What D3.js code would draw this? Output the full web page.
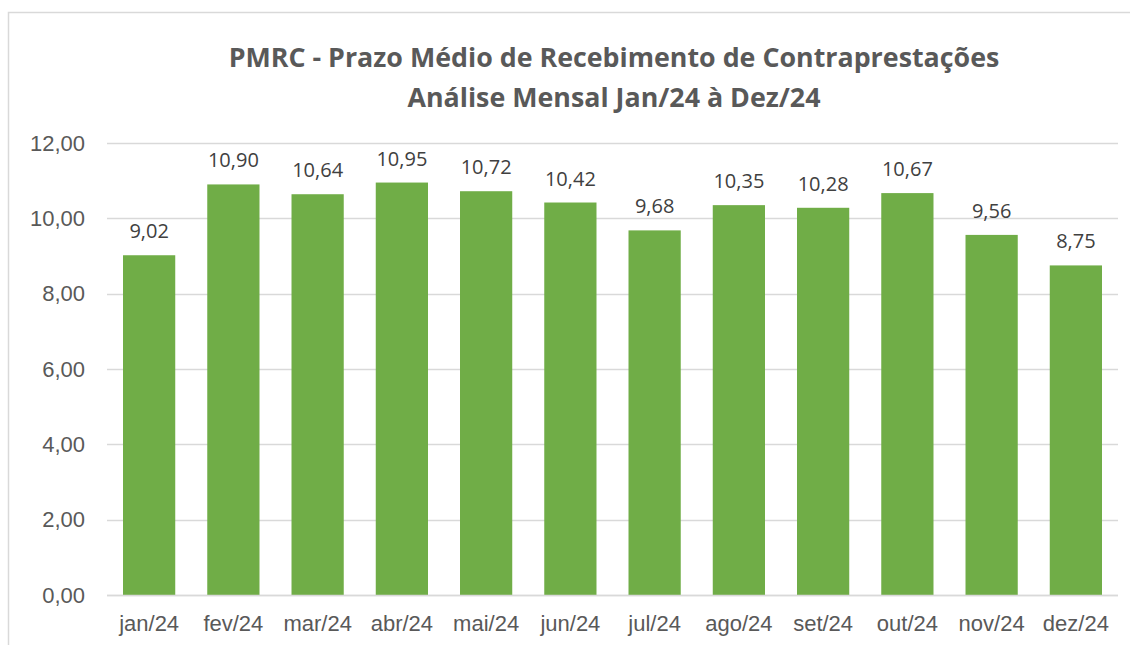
<!DOCTYPE html>
<html>
<head>
<meta charset="utf-8">
<script src="https://cdn.jsdelivr.net/npm/d3@7"></script>
<style>
  body { margin: 0; background: #fff; }
</style>
</head>
<body>
<div id="chart"></div>
<script>
var months = ["jan/24", "fev/24", "mar/24", "abr/24", "mai/24", "jun/24",
              "jul/24", "ago/24", "set/24", "out/24", "nov/24", "dez/24"];
var pmrc = [9.02, 10.90, 10.64, 10.95, 10.72, 10.42, 9.68, 10.35, 10.28, 10.67, 9.56, 8.75];
var yTicks = [0, 2, 4, 6, 8, 10, 12];
var titleLines = ["PMRC - Prazo Médio de Recebimento de Contraprestações",
                  "Análise Mensal Jan/24 à Dez/24"];

var W = 1130, H = 645;
var fmt = function (v) { return v.toFixed(2).replace(".", ","); };

var svg = d3.select("#chart").append("svg")
    .attr("width", W)
    .attr("height", H);

// chart frame
svg.append("rect")
    .attr("x", 8.5).attr("y", 12.5)
    .attr("width", 1140).attr("height", 660)
    .attr("fill", "#fff")
    .attr("stroke", "#d9d9d9")
    .attr("stroke-width", 1.5);

var plotL = 107, plotR = 1118, plotT = 143, plotB = 595;

var x = d3.scaleBand()
    .domain(months)
    .range([plotL, plotR])
    .paddingInner(0.38)
    .paddingOuter(0.19);

var y = d3.scaleLinear()
    .domain([0, 12])
    .range([plotB, plotT]);

// gridlines
svg.append("g")
    .selectAll("line")
    .data(yTicks)
    .enter().append("line")
    .attr("x1", plotL).attr("x2", plotR)
    .attr("y1", function (d) { return Math.round(y(d)) + 0.5; })
    .attr("y2", function (d) { return Math.round(y(d)) + 0.5; })
    .attr("stroke", "#d9d9d9")
    .attr("stroke-width", 1.5);

// y axis labels
var yAxis = svg.append("g")
    .attr("transform", "translate(" + plotL + ",0)")
    .call(d3.axisLeft(y).tickValues(yTicks).tickFormat(fmt).tickSize(0).tickPadding(22));
yAxis.select(".domain").remove();
yAxis.selectAll("text")
    .attr("font-family", "'Liberation Sans', Arial, sans-serif")
    .attr("font-size", 22)
    .attr("fill", "#595959");

// bars
svg.append("g")
    .selectAll("rect")
    .data(pmrc)
    .enter().append("rect")
    .attr("x", function (d, i) { return x(months[i]); })
    .attr("y", function (d) { return y(d); })
    .attr("width", x.bandwidth())
    .attr("height", function (d) { return y(0) - y(d); })
    .attr("fill", "#70ad47");

// baseline over bars
svg.append("line")
    .attr("x1", plotL).attr("x2", plotR)
    .attr("y1", plotB + 0.5).attr("y2", plotB + 0.5)
    .attr("stroke", "#d9d9d9")
    .attr("stroke-width", 1.5);

// data labels
svg.append("g")
    .selectAll("text")
    .data(pmrc)
    .enter().append("text")
    .attr("x", function (d, i) { return x(months[i]) + x.bandwidth() / 2; })
    .attr("y", function (d) { return y(d) - 17; })
    .attr("text-anchor", "middle")
    .attr("font-family", "'Open Sans', sans-serif")
    .attr("font-size", 20)
    .attr("fill", "#404040")
    .text(fmt);

// x axis labels
var xAxis = svg.append("g")
    .attr("transform", "translate(0," + plotB + ")")
    .call(d3.axisBottom(x).tickSize(0).tickPadding(20));
xAxis.select(".domain").remove();
xAxis.selectAll("text")
    .attr("font-family", "'Liberation Sans', Arial, sans-serif")
    .attr("font-size", 22)
    .attr("fill", "#595959");

// title
svg.append("g")
    .selectAll("text")
    .data(titleLines)
    .enter().append("text")
    .attr("x", 614)
    .attr("y", function (d, i) { return 67 + i * 40; })
    .attr("text-anchor", "middle")
    .attr("font-family", "'Open Sans', sans-serif")
    .attr("font-weight", "bold")
    .attr("font-size", 26.8)
    .attr("fill", "#595959")
    .text(function (d) { return d; });
</script>
</body>
</html>
